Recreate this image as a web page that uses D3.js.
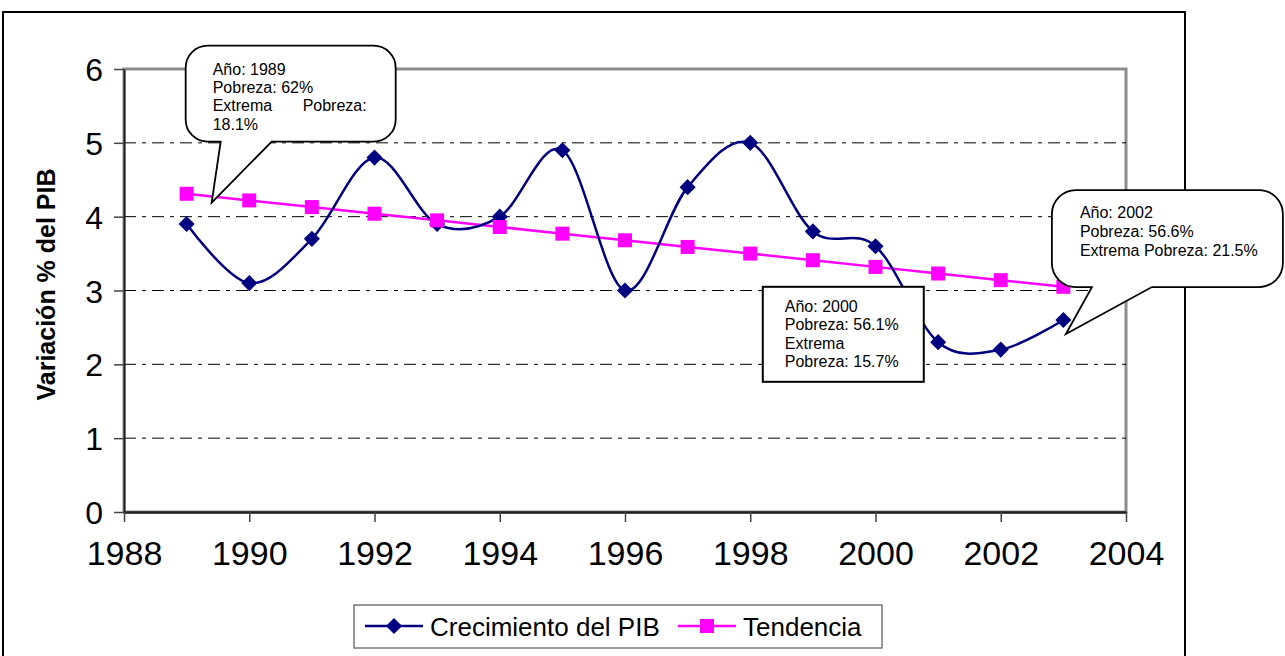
<!DOCTYPE html>
<html lang="es">
<head>
<meta charset="UTF-8">
<title>Crecimiento del PIB</title>
<script src="https://cdn.jsdelivr.net/npm/d3@7"></script>
<style>
    body { margin: 0; background: #fff; }
    text { font-family: "Liberation Sans", Arial, sans-serif; }
    .grid line { stroke: #000; stroke-width: 1; stroke-dasharray: 12,6,4,6; }
</style>
</head>
<body>
<div id="vis"></div>
<script>
// data
const years = [1989, 1990, 1991, 1992, 1993, 1994, 1995, 1996, 1997, 1998, 1999, 2000, 2001, 2002, 2003];
const pib = [3.9, 3.1, 3.7, 4.8, 3.9, 4.0, 4.9, 3.0, 4.4, 5.0, 3.8, 3.6, 2.3, 2.2, 2.6];
const tendencia = [4.31, 4.22, 4.13, 4.04, 3.95, 3.86, 3.77, 3.68, 3.59, 3.50, 3.41, 3.32, 3.23, 3.14, 3.05];
const xTicks = [1988, 1990, 1992, 1994, 1996, 1998, 2000, 2002, 2004];
const yTicks = [0, 1, 2, 3, 4, 5, 6];
const seriesNames = ["Crecimiento del PIB", "Tendencia"];
const notes1989 = ["Año: 1989", "Pobreza: 62%", "Extrema", "18.1%"];
const notes2000 = ["Año: 2000", "Pobreza: 56.1%", "Extrema", "Pobreza: 15.7%"];
const notes2002 = ["Año: 2002", "Pobreza: 56.6%", "Extrema Pobreza: 21.5%"];

const W = 1285, H = 656;
const margin = {top: 69, right: 159, bottom: 144, left: 124};
const pw = W - margin.left - margin.right, ph = H - margin.top - margin.bottom;

const svg = d3.select("#vis").append("svg")
    .attr("width", W).attr("height", H);

// outer chart border
svg.append("rect")
    .attr("x", 3).attr("y", 12).attr("width", 1182).attr("height", 700)
    .attr("fill", "#fff").attr("stroke", "#000").attr("stroke-width", 2);

const x = d3.scaleLinear().domain([1988, 2004]).range([0, pw]);
const y = d3.scaleLinear().domain([0, 6]).range([ph, 0]);

const g = svg.append("g").attr("transform", "translate(" + margin.left + "," + margin.top + ")");

// plot area border (grey)
g.append("rect")
    .attr("x", 0).attr("y", 0).attr("width", pw).attr("height", ph)
    .attr("fill", "none").attr("stroke", "#8c8c8c").attr("stroke-width", 3);

// gridlines
g.append("g").attr("class", "grid")
    .selectAll("line").data(yTicks.filter(d => d > 0 && d < 6)).join("line")
    .attr("x1", 0).attr("x2", pw)
    .attr("y1", d => y(d)).attr("y2", d => y(d));

// y axis
const yAxis = g.append("g")
    .call(d3.axisLeft(y).tickValues(yTicks).tickFormat(d3.format("d")).tickSize(10).tickSizeOuter(0).tickPadding(11));
yAxis.select(".domain").attr("stroke", "#222").attr("stroke-width", 2);
yAxis.selectAll(".tick line").attr("stroke", "#444").attr("stroke-width", 1.5);
yAxis.selectAll("text").attr("font-size", 32).attr("fill", "#000")
    .attr("dy", "0.36em").attr("font-family", "Liberation Sans, Arial, sans-serif");

// x axis
const xAxis = g.append("g").attr("transform", "translate(0," + ph + ")")
    .call(d3.axisBottom(x).tickValues(xTicks).tickFormat(d3.format("d")).tickSize(10).tickSizeOuter(0).tickPadding(19));
xAxis.select(".domain").attr("stroke", "#222").attr("stroke-width", 2.5);
xAxis.selectAll(".tick line").attr("stroke", "#444").attr("stroke-width", 1.5);
xAxis.selectAll("text").attr("font-size", 34).attr("fill", "#000")
    .attr("font-family", "Liberation Sans, Arial, sans-serif");

// y axis title
svg.append("text")
    .attr("transform", "translate(55," + (margin.top + ph / 2 - 6) + ") rotate(-90)")
    .attr("text-anchor", "middle").attr("font-size", 25).attr("font-weight", "bold")
    .text("Variación % del PIB");

const pibData = years.map((yr, i) => ({yr: yr, v: pib[i]}));
const tenData = years.map((yr, i) => ({yr: yr, v: tendencia[i]}));

// trend line
g.append("path").datum(tenData)
    .attr("fill", "none").attr("stroke", "#ff00ff").attr("stroke-width", 2.5)
    .attr("d", d3.line().x(d => x(d.yr)).y(d => y(d.v)));

// smoothed GDP line
g.append("path").datum(pibData)
    .attr("fill", "none").attr("stroke", "#000080").attr("stroke-width", 2.5)
    .attr("d", d3.line().x(d => x(d.yr)).y(d => y(d.v)).curve(d3.curveCardinal.tension(0)));

const diamond = d3.symbol().type(d3.symbolSquare).size(130);
g.selectAll(".dia").data(pibData).join("path")
    .attr("class", "dia")
    .attr("transform", d => "translate(" + x(d.yr) + "," + y(d.v) + ") rotate(45)")
    .attr("d", diamond).attr("fill", "#000080");

g.selectAll(".sq").data(tenData).join("rect")
    .attr("class", "sq")
    .attr("x", d => x(d.yr) - 7).attr("y", d => y(d.v) - 7)
    .attr("width", 14).attr("height", 14).attr("fill", "#ff00ff");

// speech bubble callouts
function bubble(tip, box, base, r) {
    // tip: [px,py], box: [l,t,r,b], base: [x1,x2] on bottom edge
    const [l, t, rr, b] = box;
    const p = d3.path();
    p.moveTo(l + r, t);
    p.lineTo(rr - r, t);
    p.arcTo(rr, t, rr, t + r, r);
    p.lineTo(rr, b - r);
    p.arcTo(rr, b, rr - r, b, r);
    p.lineTo(base[1], b);
    p.lineTo(tip[0], tip[1]);
    p.lineTo(base[0], b);
    p.lineTo(l + r, b);
    p.arcTo(l, b, l, b - r, r);
    p.lineTo(l, t + r);
    p.arcTo(l, t, l + r, t, r);
    p.closePath();
    return p.toString();
}

// 1989 callout
const t1 = [x(1989.4), y(4.19)];
g.append("path")
    .attr("d", bubble(t1, [t1[0] - 26, t1[1] - 157, t1[0] + 184, t1[1] - 61], [t1[0] + 9, t1[0] + 60], 22))
    .attr("fill", "#fff").attr("stroke", "#000").attr("stroke-width", 1.8);
const n1 = g.append("g").attr("font-size", 16);
notes1989.forEach((s, i) => {
    n1.append("text").attr("x", t1[0] + 1).attr("y", t1[1] - 128 + i * 18.4).text(s);
});
n1.append("text").attr("x", t1[0] + 155).attr("y", t1[1] - 128 + 2 * 18.4)
    .attr("text-anchor", "end").text("Pobreza:");

// 2002 callout
const t2 = [x(2003.04), y(2.41)];
g.append("path")
    .attr("d", bubble(t2, [t2[0] - 14, t2[1] - 144, t2[0] + 217, t2[1] - 47], [t2[0] + 26, t2[0] + 86], 24))
    .attr("fill", "#fff").attr("stroke", "#000").attr("stroke-width", 1.8);
notes2002.forEach((s, i) => {
    g.append("text").attr("font-size", 16)
        .attr("x", t2[0] + 14).attr("y", t2[1] - 116 + i * 19).text(s);
});

// 2000 box
const b3 = [x(1998.2), y(3.05)];
g.append("rect")
    .attr("x", b3[0]).attr("y", b3[1]).attr("width", 161).attr("height", 95)
    .attr("fill", "#fff").attr("stroke", "#000").attr("stroke-width", 2);
notes2000.forEach((s, i) => {
    g.append("text").attr("font-size", 16)
        .attr("x", b3[0] + 22).attr("y", b3[1] + 25 + i * 18.4).text(s);
});

// legend
const lg = svg.append("g").attr("transform", "translate(354,605)");
lg.append("rect").attr("width", 528).attr("height", 43)
    .attr("fill", "#fff").attr("stroke", "#555").attr("stroke-width", 1.2);
const items = [
    {name: seriesNames[0], color: "#000080", x0: 11, shape: "dia"},
    {name: seriesNames[1], color: "#ff00ff", x0: 324, shape: "sq"}
];
items.forEach(it => {
    lg.append("line").attr("x1", it.x0).attr("x2", it.x0 + 58)
        .attr("y1", 21).attr("y2", 21).attr("stroke", it.color).attr("stroke-width", 2.5);
    if (it.shape === "dia") {
        lg.append("path").attr("d", diamond)
            .attr("transform", "translate(" + (it.x0 + 29) + ",21) rotate(45)").attr("fill", it.color);
    } else {
        lg.append("rect").attr("x", it.x0 + 22).attr("y", 14).attr("width", 14).attr("height", 14).attr("fill", it.color);
    }
    lg.append("text").attr("x", it.x0 + 65).attr("y", 31).attr("font-size", 26).text(it.name);
});
</script>
</body>
</html>
